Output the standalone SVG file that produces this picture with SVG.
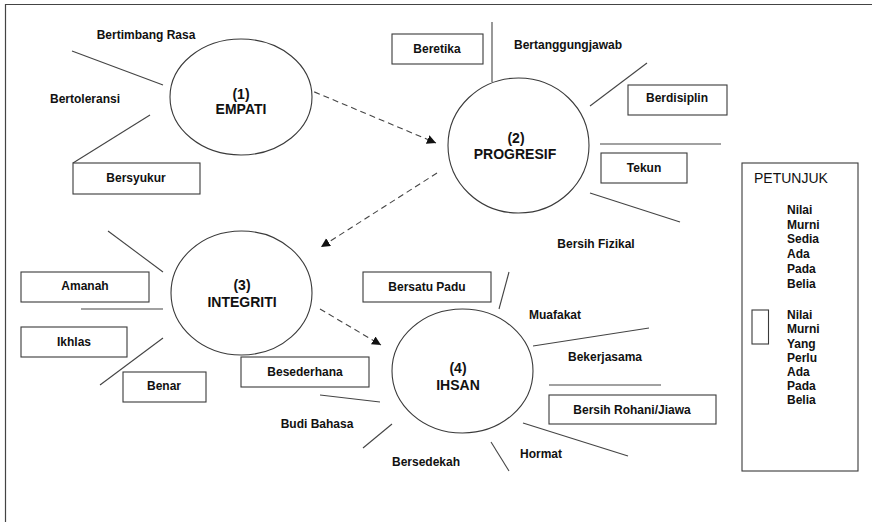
<svg xmlns="http://www.w3.org/2000/svg" width="872" height="522" viewBox="0 0 872 522">
<defs>
<style>
.bg{fill:#ffffff}
.frame{stroke:#444;stroke-width:1.2;fill:none}
.c{fill:#ffffff;stroke:#3a3a3a;stroke-width:1.1}
.b{fill:#ffffff;stroke:#3a3a3a;stroke-width:1.1}
.ln{stroke:#444;stroke-width:1.1;fill:none}
.da{stroke:#444;stroke-width:1.1;fill:none;stroke-dasharray:6 4}
.t{font-family:"Liberation Sans",Arial,sans-serif;font-size:12px;font-weight:bold;fill:#111;text-anchor:middle}
.h{font-family:"Liberation Sans",Arial,sans-serif;font-size:14px;font-weight:bold;fill:#111;text-anchor:middle}
.lg{font-family:"Liberation Sans",Arial,sans-serif;font-size:14px;fill:#111}
.ls{font-family:"Liberation Sans",Arial,sans-serif;font-size:12px;font-weight:bold;fill:#111}
</style>
<marker id="ah" markerWidth="10" markerHeight="10" refX="9" refY="4.5" orient="auto" markerUnits="userSpaceOnUse">
<path d="M0,0 L9,4.5 L0,9 Z" fill="#111"/>
</marker>
</defs>
<rect class="bg" x="0" y="0" width="872" height="522"/>
<path class="frame" d="M5.5,522 V4.5 H872"/>

<g id="connectors">
<line class="da" x1="305" y1="88" x2="436" y2="143" marker-end="url(#ah)"/>
<line class="da" x1="437" y1="173" x2="321" y2="247" marker-end="url(#ah)"/>
<line class="da" x1="320" y1="309" x2="381" y2="345" marker-end="url(#ah)"/>
<line class="ln" x1="72" y1="51" x2="163" y2="85"/>
<line class="ln" x1="150" y1="115" x2="73" y2="163"/>
<line class="ln" x1="492" y1="22" x2="492" y2="82"/>
<line class="ln" x1="590" y1="106" x2="647" y2="63"/>
<line class="ln" x1="600" y1="144" x2="721" y2="144"/>
<line class="ln" x1="590" y1="193" x2="680" y2="222"/>
<line class="ln" x1="108" y1="231" x2="163" y2="272"/>
<line class="ln" x1="81" y1="309" x2="163" y2="309"/>
<line class="ln" x1="163" y1="338" x2="100" y2="385"/>
<line class="ln" x1="509" y1="272" x2="499" y2="309"/>
<line class="ln" x1="533" y1="346" x2="649" y2="328"/>
<line class="ln" x1="549" y1="385" x2="661" y2="385"/>
<line class="ln" x1="523" y1="423" x2="628" y2="456"/>
<line class="ln" x1="491" y1="442" x2="509" y2="471"/>
<line class="ln" x1="392" y1="424" x2="363" y2="448"/>
<line class="ln" x1="320" y1="395" x2="380" y2="402"/>
</g>

<g id="node-empati">
<ellipse class="c" cx="241" cy="97" rx="71" ry="58"/>
<text class="h" x="241" y="99">(1)</text>
<text class="h" x="241" y="114">EMPATI</text>
</g>
<g id="node-progresif">
<ellipse class="c" cx="518.5" cy="145.5" rx="70.5" ry="67.5"/>
<text class="h" x="516" y="143">(2)</text>
<text class="h" x="515" y="159">PROGRESIF</text>
</g>
<g id="node-integriti">
<ellipse class="c" cx="241.5" cy="293" rx="70.5" ry="62"/>
<text class="h" x="242" y="290">(3)</text>
<text class="h" x="242" y="307">INTEGRITI</text>
</g>
<g id="node-ihsan">
<ellipse class="c" cx="462.5" cy="371" rx="70.5" ry="62"/>
<text class="h" x="458" y="373">(4)</text>
<text class="h" x="458" y="390">IHSAN</text>
</g>

<g id="label-bertimbang-rasa"><text class="t" x="146" y="39">Bertimbang Rasa</text></g>
<g id="label-bertoleransi"><text class="t" x="85" y="103">Bertoleransi</text></g>
<g id="box-bersyukur"><rect class="b" x="73" y="163" width="127" height="31"/><text class="t" x="136" y="182">Bersyukur</text></g>

<g id="box-beretika"><rect class="b" x="392" y="34" width="91" height="30"/><text class="t" x="437" y="53">Beretika</text></g>
<g id="label-bertanggungjawab"><text class="t" x="568" y="49">Bertanggungjawab</text></g>
<g id="box-berdisiplin"><rect class="b" x="628" y="85" width="99" height="30"/><text class="t" x="677" y="102">Berdisiplin</text></g>
<g id="box-tekun"><rect class="b" x="601" y="153" width="86" height="30"/><text class="t" x="644" y="172">Tekun</text></g>
<g id="label-bersih-fizikal"><text class="t" x="596" y="248">Bersih Fizikal</text></g>

<g id="box-amanah"><rect class="b" x="21" y="272" width="128" height="30"/><text class="t" x="85" y="290">Amanah</text></g>
<g id="box-ikhlas"><rect class="b" x="21" y="327" width="106" height="30"/><text class="t" x="74" y="346">Ikhlas</text></g>
<g id="box-benar"><rect class="b" x="123" y="372" width="83" height="30"/><text class="t" x="164" y="390">Benar</text></g>

<g id="box-besederhana"><rect class="b" x="241" y="357" width="128" height="30"/><text class="t" x="305" y="376">Besederhana</text></g>
<g id="box-bersatu-padu"><rect class="b" x="363" y="272" width="128" height="30"/><text class="t" x="427" y="291">Bersatu Padu</text></g>
<g id="label-muafakat"><text class="t" x="555" y="319">Muafakat</text></g>
<g id="label-bekerjasama"><text class="t" x="605" y="361">Bekerjasama</text></g>
<g id="box-bersih-rohani"><rect class="b" x="549" y="395" width="167" height="29"/><text class="t" x="632" y="414">Bersih Rohani/Jiawa</text></g>
<g id="label-hormat"><text class="t" x="541" y="458">Hormat</text></g>
<g id="label-bersedekah"><text class="t" x="426" y="466">Bersedekah</text></g>
<g id="label-budi-bahasa"><text class="t" x="317" y="428">Budi Bahasa</text></g>

<g id="legend">
<rect class="b" x="742" y="163" width="116" height="308"/>
<text class="lg" x="754" y="183">PETUNJUK</text>
<text class="ls" x="787" y="214">Nilai</text>
<text class="ls" x="787" y="228.5">Murni</text>
<text class="ls" x="787" y="243">Sedia</text>
<text class="ls" x="787" y="258">Ada</text>
<text class="ls" x="787" y="273">Pada</text>
<text class="ls" x="787" y="288">Belia</text>
<rect class="b" x="752" y="310" width="16.5" height="34"/>
<text class="ls" x="787" y="319">Nilai</text>
<text class="ls" x="787" y="333">Murni</text>
<text class="ls" x="787" y="347.5">Yang</text>
<text class="ls" x="787" y="361.5">Perlu</text>
<text class="ls" x="787" y="376">Ada</text>
<text class="ls" x="787" y="390">Pada</text>
<text class="ls" x="787" y="404">Belia</text>
</g>
</svg>
